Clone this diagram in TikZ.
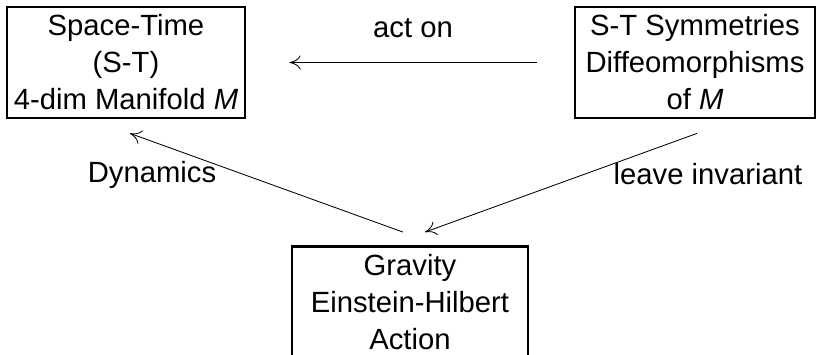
\documentclass[tikz,border=0pt]{standalone}
\usepackage{fontspec}
\setmainfont{Liberation Sans}
\usepackage{tikz}
\usetikzlibrary{positioning, arrows.meta}

\begin{document}
\begin{tikzpicture}[
    concept/.style={draw, rectangle, line width=2pt, align=center, minimum width=5.95cm, minimum height=2.775cm, inner sep=0pt, font=\fontsize{20.8}{26.3}\selectfont},
    relation/.style={-{To[length=8pt,width=10pt]}, line width=0.6pt},
    rellabel/.style={anchor=base, font=\fontsize{20.8}{24}\selectfont}
  ]
      \useasboundingbox (0,0) rectangle (20.425,-8.875);

      \node[concept] (st) at (3.15, -1.5625) {Space-Time\\(S-T)\\4-dim Manifold \textit{M}};
      \node[concept, minimum width=6cm] (sym) at (17.375, -1.5625) {S-T Symmetries\\Diffeomorphisms\\of \textit{M}};
      \node[concept, minimum width=5.9cm] (grav) at (10.25, -7.55) {Gravity\\Einstein-Hilbert\\Action};

      \draw[relation, shorten <=0.925cm, shorten >=1.075cm] (sym.west) -- (st.east);
      \draw[relation] ([xshift=-0.175cm, yshift=0.325cm]grav.north) -- ([xshift=0.1cm, yshift=-0.35cm]st.south);
      \draw[relation] ([xshift=0.05cm, yshift=-0.35cm]sym.south) -- ([xshift=0.375cm, yshift=0.325cm]grav.north);

      \node[rellabel] (acton) at (10.325, -0.95) {act on};
      \node[rellabel] (dyn) at (3.8, -4.575) {Dynamics};
      \node[rellabel] (inv) at (17.7, -4.625) {leave invariant};
    \end{tikzpicture}
\end{document}
